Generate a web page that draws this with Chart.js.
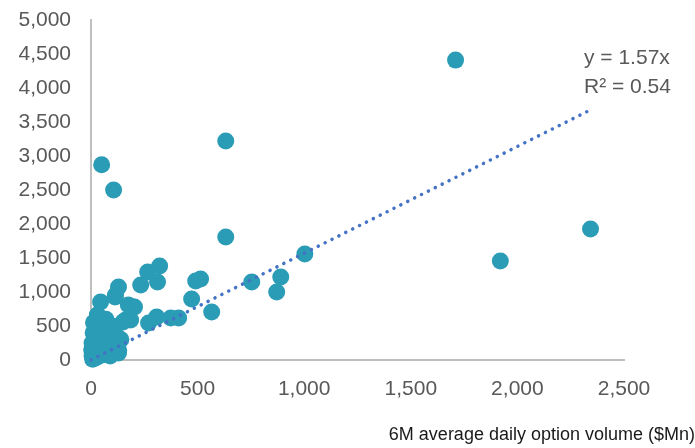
<!DOCTYPE html>
<html>
<head>
<meta charset="utf-8">
<script src="https://cdn.jsdelivr.net/npm/chart.js@4.4.1/dist/chart.umd.min.js"></script>
<style>
  html, body { margin: 0; padding: 0; background: #ffffff; }
  #wrap { position: relative; width: 695px; height: 448px; }
</style>
</head>
<body>
<div id="wrap"><canvas id="c" width="695" height="448"></canvas></div>
<script>
// ---- data ----
const optionVolume = [1710, 632, 50, 106, 2343, 632, 1920, 1003, 890, 871, 754, 566, 514, 491, 472, 411, 374, 308, 270, 322, 266, 312, 233, 204, 186, 129, 115, 45, 162, 31, 129,
  113, 175, 197, 150, 100, 60, 20, 10, 40, 80, 120, 140, 90, 60, 30, 5, 25, 50, 75, 100, 130, 15, 40, 65, 5, 20, 8, 35, 90, 110, 55, 30, 70, 12, 45, 85, 3, 18];
const stockVolume  = [4410, 3220, 2870, 2500, 1926, 1810, 1456, 1560, 1220, 1000, 1147, 706, 1191, 1162, 897, 618, 618, 632, 544, 1382, 1294, 1147, 1103, 779, 588, 1074, 956, 853, 588, 662, 103,
  926, 809, 780, 560, 500, 480, 470, 400, 380, 420, 350, 300, 280, 300, 300, 250, 200, 220, 180, 150, 140, 130, 100, 80, 60, 30, 10, 50, 60, 240, 150, 660, 600, 550, 530, 350, 150, 90];
const trendSlope = 1.57;
const trendLabel = ['y = 1.57x', 'R\u00b2 = 0.54'];
const xTicks = [0, 500, 1000, 1500, 2000, 2500];
const yTicks = [0, 500, 1000, 1500, 2000, 2500, 3000, 3500, 4000, 4500, 5000];
const xAxisTitle = '6M average daily option volume ($Mn)';

const points = optionVolume.map((x, i) => ({ x: x, y: stockVolume[i] }));
const maxX = Math.max(...optionVolume);
const trend = [{ x: 0, y: 0 }, { x: maxX, y: trendSlope * maxX }];

const FONT = "'Liberation Sans', Arial, sans-serif";

const overlay = {
  id: 'overlay',
  afterDraw(chart) {
    const ctx = chart.ctx;
    ctx.save();
    ctx.fillStyle = '#595959';
    ctx.font = '21px ' + FONT;
    ctx.textAlign = 'left';
    ctx.textBaseline = 'middle';
    ctx.fillText(trendLabel[0], 584, 58);
    ctx.fillText(trendLabel[1], 584, 87);
    ctx.fillStyle = '#1a1a1a';
    ctx.font = '18px ' + FONT;
    ctx.textAlign = 'right';
    ctx.fillText(xAxisTitle, 695, 435);
    ctx.restore();
  }
};

new Chart(document.getElementById('c'), {
  type: 'scatter',
  data: {
    datasets: [
      {
        type: 'line',
        data: trend,
        borderColor: '#4472C4',
        borderWidth: 3.5,
        borderDash: [0.1, 7.6],
        borderCapStyle: 'round',
        pointRadius: 0,
        fill: false,
        order: 0,
        clip: false
      },
      {
        data: points,
        backgroundColor: '#2B9CB5',
        borderColor: '#2B9CB5',
        borderWidth: 0,
        pointRadius: 8.5,
        pointHoverRadius: 8.5,
        order: 1,
        clip: false
      }
    ]
  },
  options: {
    responsive: false,
    animation: false,
    devicePixelRatio: 1,
    layout: { padding: { left: 0, right: 71, top: 20, bottom: 0 } },
    plugins: { legend: { display: false }, tooltip: { enabled: false } },
    scales: {
      x: {
        type: 'linear',
        min: 0, max: 2500,
        afterBuildTicks(scale) { scale.ticks = xTicks.map(v => ({ value: v })); },
        afterFit(scale) { scale.height = 88; scale.paddingRight = 0; scale.paddingLeft = 0; },
        grid: { display: false, drawTicks: false },
        border: { display: true, color: '#BFBFBF', width: 2 },
        ticks: {
          padding: 17,
          color: '#595959',
          font: { family: FONT, size: 21 },
          callback: v => v.toLocaleString('en-US')
        }
      },
      y: {
        type: 'linear',
        min: 0, max: 5000,
        afterBuildTicks(scale) { scale.ticks = yTicks.map(v => ({ value: v })); },
        afterFit(scale) { scale.width = 91; scale.paddingTop = 0; scale.paddingBottom = 0; },
        grid: { display: false, drawTicks: false },
        border: { display: true, color: '#BFBFBF', width: 2 },
        ticks: {
          padding: 20,
          color: '#595959',
          font: { family: FONT, size: 21 },
          callback: v => v.toLocaleString('en-US')
        }
      }
    }
  },
  plugins: [overlay]
});
</script>
</body>
</html>
